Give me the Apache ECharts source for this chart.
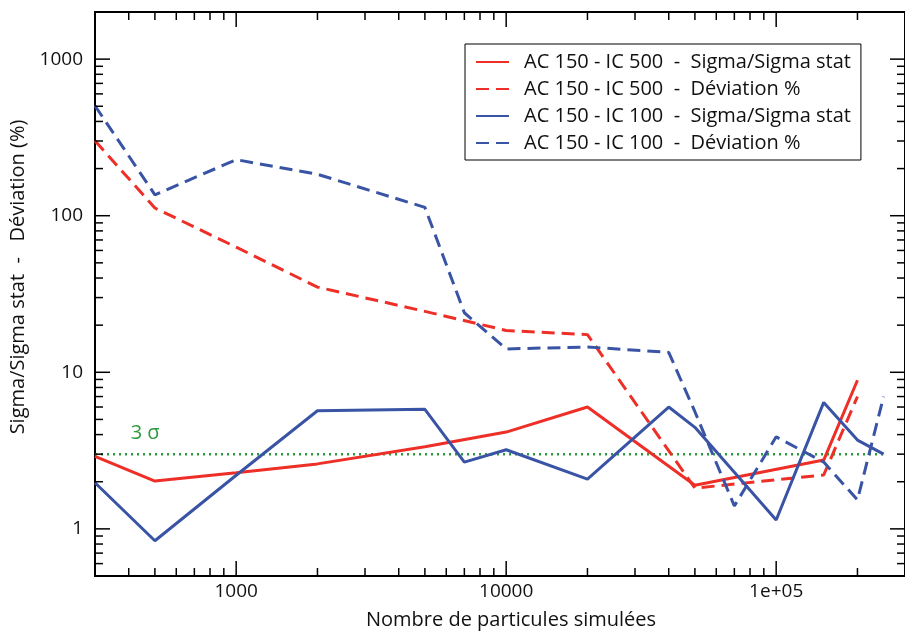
<!DOCTYPE html>
<html><head><meta charset="utf-8">
<script src="https://cdn.jsdelivr.net/npm/echarts@6/dist/echarts.min.js"></script>
<style>html,body{margin:0;padding:0;background:#fff}#c{width:905px;height:637px}</style>
</head><body><div id="c"></div>
<script>
// ---- data ----
const seriesNames = [
  'AC 150 - IC 500  -  Sigma/Sigma stat',
  'AC 150 - IC 500  -  Déviation %',
  'AC 150 - IC 100  -  Sigma/Sigma stat',
  'AC 150 - IC 100  -  Déviation %'
];
const xRed = [300, 500, 1000, 2000, 5000, 10000, 20000, 50000, 150000, 200000];
const redSigma = [2.9, 2.02, 2.28, 2.6, 3.35, 4.15, 6.0, 1.9, 2.75, 8.9];
const redDev = [301, 112, 63, 35, 24.5, 18.5, 17.4, 1.82, 2.21, 7.0];
const xBlueSigma = [300, 500, 1000, 2000, 5000, 7000, 10000, 20000, 40000, 50000, 100000, 150000, 200000, 250000];
const blueSigma = [1.97, 0.84, 2.2, 5.68, 5.8, 2.67, 3.2, 2.08, 6.0, 4.45, 1.14, 6.42, 3.69, 3.0];
const xBlueDev = [300, 500, 1000, 2000, 5000, 7000, 10000, 20000, 40000, 50000, 70000, 100000, 150000, 200000, 250000];
const blueDev = [504, 136, 228, 184, 113, 24, 14.1, 14.5, 13.4, 5.6, 1.40, 3.87, 2.67, 1.53, 7.0];
const sigmaLevelX = [300, 250000];
const sigmaLevel = 3;
const sigmaLabel = '3 σ';
const xMajorTicks = [1000, 10000, 100000];
const yMajorTicks = [1, 10, 100, 1000];
const X_MIN = 300, X_MAX = 300000, Y_MIN = 0.5, Y_MAX = 2000;

// ---- helpers ----
const pairs = (xs, ys) => xs.map((x, i) => [x, ys[i]]);
function minorTicks(lo, hi) {
  const out = [];
  for (let d = 0.1; d <= hi; d *= 10) {
    for (let m = 2; m <= 9; m++) {
      const v = +(m * d).toPrecision(6);
      if (v > lo && v < hi) out.push(v);
    }
  }
  return out;
}
const xTickData = xMajorTicks.map(v => [v, Y_MIN, 1]).concat(minorTicks(X_MIN, X_MAX).map(v => [v, Y_MIN, 0]));
const yTickData = yMajorTicks.map(v => [X_MIN, v, 1]).concat(minorTicks(Y_MIN, Y_MAX).map(v => [X_MIN, v, 0]));

const RED = '#ee2f27', BLUE = '#3a54a5', GREEN = '#2a9b3e';
const FONT = 'Open Sans';
const LW = 3;

const chart = echarts.init(document.getElementById('c'), null, {renderer: 'canvas'});
const lineBase = {type: 'line', symbol: 'none', showSymbol: false, animation: false, z: 3};

chart.setOption({
  animation: false,
  backgroundColor: '#fff',
  grid: {left: 95, top: 12, right: -9, bottom: 61, show: true, borderColor: '#000', borderWidth: 2, backgroundColor: 'transparent'},
  xAxis: {
    type: 'log', logBase: 10, min: X_MIN, max: X_MAX,
    name: 'Nombre de particules simulées', nameLocation: 'middle', nameGap: 34,
    nameTextStyle: {fontFamily: FONT, fontSize: 20, color: '#111', padding: [0, 0, 0, 22]},
    axisLine: {show: false}, axisTick: {show: false}, splitLine: {show: false}, minorTick: {show: false},
    axisLabel: {
      fontFamily: FONT, fontSize: 19, color: '#111', margin: 6,
      showMinLabel: false, showMaxLabel: false,
      formatter: v => { const r = Math.round(v); return r >= 100000 ? '1e+05' : String(r); }
    }
  },
  yAxis: {
    type: 'log', logBase: 10, min: Y_MIN, max: Y_MAX,
    name: 'Sigma/Sigma stat  -   Déviation (%)', nameLocation: 'middle', nameGap: 62, nameRotate: 90,
    nameTextStyle: {fontFamily: FONT, fontSize: 20, color: '#111', padding: [0, 0, 0, 34]},
    axisLine: {show: false}, axisTick: {show: false}, splitLine: {show: false}, minorTick: {show: false},
    axisLabel: {
      fontFamily: FONT, fontSize: 19, color: '#111', margin: 12,
      showMinLabel: false, showMaxLabel: false,
      formatter: v => String(Math.round(v))
    }
  },
  legend: {
    left: 465, top: 44, orient: 'vertical',
    data: seriesNames,
    itemWidth: 33, itemHeight: 14, itemGap: 7,
    padding: [8, 10, 7, 10],
    borderColor: '#000', borderWidth: 1, backgroundColor: '#fff',
    itemStyle: {opacity: 0},
    textStyle: {fontFamily: FONT, fontSize: 20, color: '#111', lineHeight: 20, padding: [0, 0, 0, 10]},
    selectedMode: false
  },
  series: [
    Object.assign({}, lineBase, {name: seriesNames[0], data: pairs(xRed, redSigma), lineStyle: {color: RED, width: LW}, itemStyle: {color: RED}}),
    Object.assign({}, lineBase, {name: seriesNames[1], data: pairs(xRed, redDev), lineStyle: {color: RED, width: LW, type: [13, 7]}, itemStyle: {color: RED}}),
    Object.assign({}, lineBase, {name: seriesNames[2], data: pairs(xBlueSigma, blueSigma), lineStyle: {color: BLUE, width: LW}, itemStyle: {color: BLUE}}),
    Object.assign({}, lineBase, {name: seriesNames[3], data: pairs(xBlueDev, blueDev), lineStyle: {color: BLUE, width: LW, type: [13, 7]}, itemStyle: {color: BLUE}}),
    Object.assign({}, lineBase, {
      name: '3sigma', data: sigmaLevelX.map(x => [x, sigmaLevel]),
      lineStyle: {color: GREEN, width: 2.5, type: [2, 4]}, itemStyle: {color: GREEN}, z: 2,
      markPoint: {
        symbol: 'circle', symbolSize: 0, silent: true,
        data: [{coord: [460, 4.1], value: sigmaLabel}],
        label: {show: true, formatter: sigmaLabel, color: GREEN, fontFamily: FONT, fontSize: 20, position: 'inside'}
      }
    }),
    {
      type: 'custom', name: 'xticks', data: xTickData, encode: {x: 0, y: 1}, clip: false, silent: true, z: 5,
      renderItem: (params, api) => {
        const v = api.value(0), len = api.value(2) ? 15 : 8;
        const b = api.coord([v, Y_MIN]), t = api.coord([v, Y_MAX]);
        const st = {stroke: '#000', lineWidth: 1.5};
        return {type: 'group', children: [
          {type: 'line', shape: {x1: b[0], y1: b[1], x2: b[0], y2: b[1] - len}, style: st},
          {type: 'line', shape: {x1: t[0], y1: t[1], x2: t[0], y2: t[1] + len}, style: st}
        ]};
      }
    },
    {
      type: 'custom', name: 'yticks', data: yTickData, encode: {x: 0, y: 1}, clip: false, silent: true, z: 5,
      renderItem: (params, api) => {
        const v = api.value(1), len = api.value(2) ? 15 : 8;
        const l = api.coord([X_MIN, v]), r = api.coord([X_MAX, v]);
        const st = {stroke: '#000', lineWidth: 1.5};
        return {type: 'group', children: [
          {type: 'line', shape: {x1: l[0], y1: l[1], x2: l[0] + len, y2: l[1]}, style: st},
          {type: 'line', shape: {x1: r[0], y1: r[1], x2: r[0] - len, y2: r[1]}, style: st}
        ]};
      }
    }
  ]
});
</script></body></html>
